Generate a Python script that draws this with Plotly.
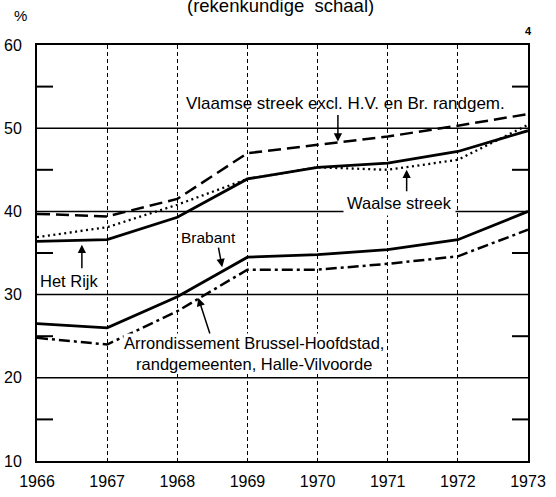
import plotly.graph_objects as go

years = [1966, 1967, 1968, 1969, 1970, 1971, 1972, 1973]
year_labels = ["1966", "1967", "1968", "1969", "1970", "1971", "1972", "1973"]
het_rijk = [36.4, 36.6, 39.3, 43.9, 45.3, 45.8, 47.2, 49.7]
vlaamse = [39.7, 39.4, 41.5, 47.0, 48.0, 49.0, 50.3, 51.7]
waalse = [36.9, 38.1, 40.8, 43.9, 45.3, 45.0, 46.2, 50.4]
brabant = [26.5, 26.0, 29.75, 34.5, 34.8, 35.4, 36.6, 40.0]
arrond = [24.8, 24.0, 28.0, 33.0, 33.0, 33.7, 34.6, 37.8]
y_tick_vals = [10, 20, 30, 40, 50, 60]
y_tick_text = ["10", "20", "30", "40", "50", "60"]
y_minor_vals = [15, 25, 35, 45, 55]
y_grid_vals = [20, 30, 40, 50]

FONT = "Liberation Sans, Arial, sans-serif"
PLOT_W = 556 - 37 - 28
TICK_FRAC = 16 / PLOT_W

fig = go.Figure()
fig.add_trace(go.Scatter(x=years, y=vlaamse, mode="lines",
                         line=dict(color="black", width=2.5, dash="13px,6px")))
fig.add_trace(go.Scatter(x=years, y=waalse, mode="lines",
                         line=dict(color="black", width=2.3, dash="2px,3.5px")))
fig.add_trace(go.Scatter(x=years, y=het_rijk, mode="lines",
                         line=dict(color="black", width=2.8)))
fig.add_trace(go.Scatter(x=years, y=brabant, mode="lines",
                         line=dict(color="black", width=2.8)))
fig.add_trace(go.Scatter(x=years, y=arrond, mode="lines",
                         line=dict(color="black", width=2.5, dash="11px,4px,3px,4px")))

# horizontal grid lines
for v in y_grid_vals:
    fig.add_shape(type="line", xref="paper", x0=0, x1=1, yref="y", y0=v, y1=v,
                  line=dict(color="black", width=1.5), layer="below")
# minor inside ticks on both sides
for v in y_minor_vals:
    fig.add_shape(type="line", xref="paper", x0=0, x1=TICK_FRAC, yref="y", y0=v, y1=v,
                  line=dict(color="black", width=2), layer="above")
    fig.add_shape(type="line", xref="paper", x0=1 - TICK_FRAC, x1=1, yref="y", y0=v, y1=v,
                  line=dict(color="black", width=2), layer="above")

ann_font = dict(family=FONT, size=16.5, color="black")
annotations = [
    # labels
    dict(x=1970.4, y=53.0, text="Vlaamse streek excl. H.V. en Br. randgem.",
         showarrow=False, font=dict(family=FONT, size=17, color="black")),
    dict(x=1971.17, y=41.05, text="Waalse streek", showarrow=False,
         font=ann_font, bgcolor="white", borderpad=3),
    dict(x=1966.46, y=31.6, text="Het Rijk", showarrow=False, font=ann_font),
    dict(x=1968.45, y=36.9, text="Brabant", showarrow=False,
         font=dict(family=FONT, size=15.5, color="black")),
    dict(x=1969.1, y=22.9,
         text="Arrondissement Brussel-Hoofdstad,<br>randgemeenten, Halle-Vilvoorde",
         showarrow=False, font=ann_font, bgcolor="white", borderpad=0),
    # arrows
    dict(x=1970.29, y=48.4, text="", showarrow=True, ax=0, ay=-28,
         arrowhead=2, arrowsize=1.1, arrowwidth=1.5, arrowcolor="black"),
    dict(x=1971.27, y=45.0, text="", showarrow=True, ax=0, ay=23,
         arrowhead=2, arrowsize=1.1, arrowwidth=1.5, arrowcolor="black"),
    dict(x=1966.64, y=36.0, text="", showarrow=True, ax=0, ay=25,
         arrowhead=2, arrowsize=1.1, arrowwidth=1.5, arrowcolor="black"),
    dict(x=1968.64, y=33.3, text="", showarrow=True, ax=-4, ay=-21,
         arrowhead=2, arrowsize=1.1, arrowwidth=1.5, arrowcolor="black"),
    dict(x=1968.3, y=29.6, text="", showarrow=True, ax=12, ay=37,
         arrowhead=2, arrowsize=1.1, arrowwidth=1.5, arrowcolor="black"),
    # header texts
    dict(xref="paper", yref="paper", x=0.495, y=1.096, text="(rekenkundige  schaal)",
         showarrow=False, yanchor="middle", xanchor="center",
         font=dict(family=FONT, size=18.5, color="black")),
    dict(xref="paper", yref="paper", x=-0.051, y=1.07, text="%",
         showarrow=False, yanchor="middle", xanchor="left",
         font=dict(family=FONT, size=15, color="black")),
    dict(xref="paper", yref="paper", x=1.012, y=1.034, text="<b>4</b>",
         showarrow=False, yanchor="middle", xanchor="right",
         font=dict(family=FONT, size=11, color="black")),
]

fig.update_layout(
    width=556, height=497,
    margin=dict(l=37, r=28, t=45, b=36),
    paper_bgcolor="white", plot_bgcolor="white",
    showlegend=False,
    annotations=annotations,
    xaxis=dict(range=[1966, 1973], tickmode="array", tickvals=years, ticktext=year_labels,
               showgrid=True, gridcolor="black", gridwidth=1, griddash="4px,3px",
               showline=True, linecolor="black", linewidth=2, mirror=True,
               ticks="outside", ticklen=5, tickcolor="rgba(0,0,0,0)", zeroline=False,
               automargin=False,
               tickfont=dict(family=FONT, size=16, color="black")),
    yaxis=dict(range=[10, 60], tickmode="array", tickvals=y_tick_vals,
               ticktext=y_tick_text,
               showgrid=False,
               showline=True, linecolor="black", linewidth=2, mirror=True,
               ticks="outside", ticklen=10, tickcolor="rgba(0,0,0,0)",
               zeroline=False, automargin=False,
               tickfont=dict(family=FONT, size=16, color="black")),
)

fig.write_html("out.html", config={"displayModeBar": False},
               post_script="document.body.style.margin='0';document.body.style.overflow='hidden';")
